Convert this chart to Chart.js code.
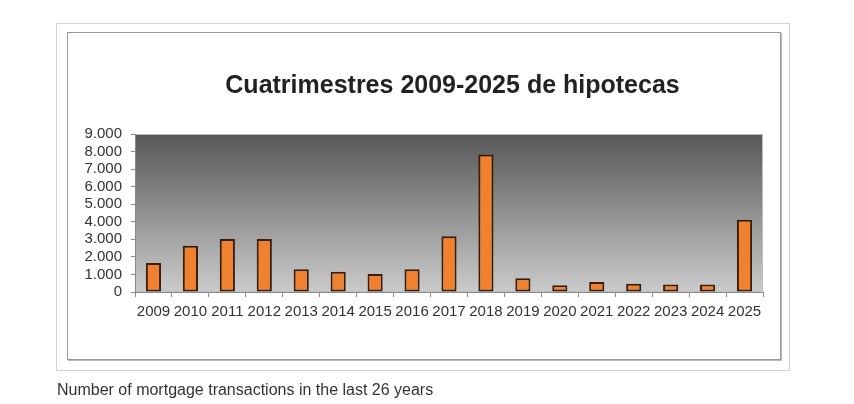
<!DOCTYPE html>
<html>
<head>
<meta charset="utf-8">
<script src="https://cdn.jsdelivr.net/npm/chart.js@4/dist/chart.umd.min.js"></script>
<style>
  html, body { margin: 0; padding: 0; background: #ffffff; }
  body { width: 854px; height: 404px; position: relative; overflow: hidden; font-family: "Liberation Sans", Arial, sans-serif; }
  #outer { position: absolute; left: 56px; top: 23px; width: 732px; height: 346px; border: 1px solid #d4d4d4; box-sizing: content-box; }
  #inner { position: absolute; left: 67px; top: 32px; width: 712px; height: 326px; border: 1px solid #9a9a9a; box-shadow: 1px 1px 0 #b8b8b8; }
  #wrap { position: absolute; left: 0; top: 0; width: 854px; height: 404px; }
  #caption { position: absolute; left: 57px; top: 380px; font-size: 16px; color: #333333; white-space: nowrap; line-height: 20px; }
</style>
</head>
<body>
<div id="outer"></div>
<div id="inner"></div>
<div id="wrap"><canvas id="c" width="854" height="404"></canvas></div>
<div id="caption">Number of mortgage transactions in the last 26 years</div>
<script>
const years = ['2009','2010','2011','2012','2013','2014','2015','2016','2017','2018','2019','2020','2021','2022','2023','2024','2025'];
const mortgages = [1650, 2640, 3020, 3020, 1300, 1150, 1030, 1300, 3170, 7830, 790, 380, 570, 470, 430, 430, 4110];
const yTickLabels = ['0','1.000','2.000','3.000','4.000','5.000','6.000','7.000','8.000','9.000'];
const chartTitle = 'Cuatrimestres 2009-2025 de hipotecas';

const plotBg = {
  id: 'plotBg',
  afterLayout(chart) {
    const t = chart.titleBlock;
    if (t) { t.left += 36; t.right += 36; }
  },
  beforeDraw(chart) {
    const {ctx, chartArea: a} = chart;
    const g = ctx.createLinearGradient(0, a.top, 0, a.bottom);
    g.addColorStop(0, '#575757');
    g.addColorStop(1, '#cbcbcb');
    ctx.save();
    ctx.fillStyle = g;
    ctx.fillRect(a.left, a.top, a.right - a.left, a.bottom - a.top);
    ctx.strokeStyle = '#bdbdbd';
    ctx.lineWidth = 1;
    ctx.strokeRect(a.left + 0.5, a.top + 0.5, a.right - a.left - 1, a.bottom - a.top - 1);
    ctx.restore();
  }
};

new Chart(document.getElementById('c'), {
  type: 'bar',
  data: {
    labels: years,
    datasets: [{
      data: mortgages,
      backgroundColor: '#f0822f',
      borderColor: '#3a1d08',
      borderWidth: 2,
      borderSkipped: false,
      barPercentage: 0.41,
      categoryPercentage: 1.0
    }]
  },
  options: {
    responsive: false,
    animation: false,
    devicePixelRatio: 1,
    layout: { padding: { left: 70, right: 91, top: 32, bottom: 44 } },
    plugins: {
      legend: { display: false },
      tooltip: { enabled: false },
      title: {
        display: true,
        text: chartTitle,
        color: '#222222',
        font: { family: '"Liberation Sans", Arial, sans-serif', size: 25, weight: 'bold', lineHeight: 1.2 },
        padding: { top: 39, bottom: 33 }
      }
    },
    scales: {
      x: {
        grid: { display: true, drawOnChartArea: false, drawTicks: true, tickLength: 5, color: '#8a8a8a', offset: true },
        border: { display: true, color: '#8a8a8a', width: 1 },
        ticks: { color: '#333333', padding: 6, maxRotation: 0, autoSkip: false,
                 font: { family: '"Liberation Sans", Arial, sans-serif', size: 15 } },
        afterFit(s) { s.height = 68; }
      },
      y: {
        min: 0, max: 9000,
        grid: { display: true, drawOnChartArea: false, drawTicks: true, tickLength: 4, color: '#8a8a8a' },
        border: { display: true, color: '#8a8a8a', width: 1 },
        ticks: { stepSize: 1000, color: '#333333', padding: 9, autoSkip: false,
                 font: { family: '"Liberation Sans", Arial, sans-serif', size: 15, lineHeight: 1 },
                 callback: (v, i) => yTickLabels[i] },
        afterFit(s) { s.width = 65; }
      }
    }
  },
  plugins: [plotBg]
});
</script>
</body>
</html>
